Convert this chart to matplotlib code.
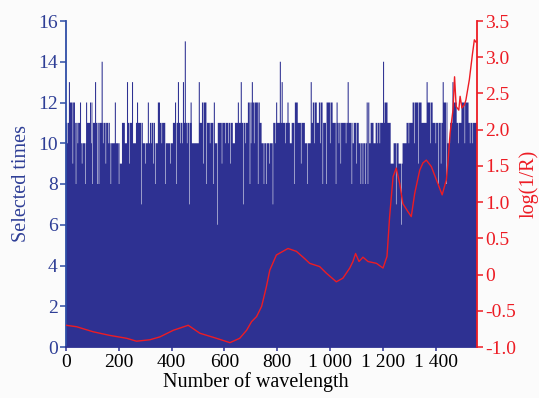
import numpy as np
import matplotlib
matplotlib.use("Agg")
import matplotlib.pyplot as plt

# ---- data ----
n_wavelengths = 1557

# selection count: level held from each start index until the next one
step_start = [0, 15, 34, 56, 76, 91, 100, 166, 204, 212, 223, 233, 252, 265, 291,
              318, 337, 348, 356, 378, 405, 477, 505, 515, 534, 564, 575, 632, 640,
              689, 734, 741, 783, 848, 855, 867, 878, 905, 929, 935, 950, 958, 973,
              985, 1010, 1086, 1090, 1109, 1154, 1165, 1173, 1207, 1218, 1230, 1241,
              1260, 1275, 1290, 1313, 1347, 1368, 1389, 1430, 1445, 1455, 1468, 1480,
              1498, 1525]
step_level = [11, 12, 11, 10, 11, 12, 11, 10, 9, 11, 10, 11, 10, 11, 10,
              11, 10, 12, 11, 10, 11, 10, 11, 12, 11, 10, 11, 10, 11,
              12, 11, 10, 11, 10, 11, 12, 11, 10, 11, 12, 11, 12, 11,
              12, 11, 10, 11, 10, 11, 10, 11, 12, 11, 9, 10,
              9, 10, 11, 12, 11, 12, 11, 12, 10, 11, 12, 11,
              12, 11]

# short tall bars
spike_at = [11, 53, 76, 110, 135, 185, 231, 250, 269, 310, 413, 424, 443, 450,
            472, 503, 560, 651, 662, 704, 796, 810, 817, 839, 927, 1025, 1067,
            1139, 1145, 1201, 1366, 1427, 1464, 1506]
spike_val = [13, 12, 12, 13, 14, 12, 13, 13, 12, 12, 12, 13, 13, 15,
             12, 13, 12, 12, 13, 13, 12, 14, 13, 12, 13, 12, 13,
             12, 12, 14, 13, 13, 13, 12]

# short low bars (gaps)
dip_at = [5, 25, 37, 44, 60, 72, 95, 100, 119, 124, 140, 150, 160, 169, 200,
          240, 258, 285, 300, 322, 330, 338, 362, 376, 395, 417, 432, 440, 458,
          467, 492, 520, 532, 545, 557, 573, 590, 603, 615, 622, 671, 680, 696,
          700, 712, 727, 749, 759, 770, 783, 792, 830, 865, 890, 913, 940, 963,
          972, 985, 1000, 1022, 1033, 1040, 1060, 1082, 1100, 1116, 1124, 1133,
          1143, 1180, 1188, 1250, 1270, 1298, 1320, 1335, 1355, 1380, 1400, 1411,
          1420, 1441, 1485, 1510, 1530, 1540]
dip_val = [10, 9, 8, 10, 9, 8, 10, 8, 8, 8, 10, 9, 10, 8, 8,
           9, 10, 7, 9, 10, 9, 8, 10, 8, 9, 8, 10, 10, 10,
           7, 10, 9, 8, 10, 8, 6, 9, 10, 10, 9, 7, 10, 8,
           10, 10, 8, 8, 8, 9, 7, 10, 10, 8, 9, 8, 10, 10,
           8, 8, 10, 8, 10, 9, 10, 8, 9, 8, 8, 8,
           8, 10, 10, 7, 6, 10, 10, 9, 11, 10, 10, 8,
           9, 8, 10, 10, 10, 10]

# mean spectrum log(1/R)
curve_x = [0, 40, 103, 166, 230, 267, 318, 356, 406, 463, 507, 570, 621, 658,
           684, 703, 722, 741, 759, 772, 797, 841, 873, 904, 923, 961, 986,
           1024, 1049, 1075, 1087, 1097, 1110, 1125, 1144, 1176, 1201, 1216,
           1226, 1239, 1251, 1264, 1276, 1295, 1308, 1321, 1340, 1352, 1365,
           1384, 1403, 1425, 1441, 1447, 1455, 1466, 1472, 1478, 1488, 1493,
           1500, 1509, 1515, 1528, 1540, 1547, 1553]
curve_y = [-0.70, -0.72, -0.79, -0.84, -0.88, -0.92, -0.90, -0.86, -0.77, -0.70,
           -0.81, -0.88, -0.94, -0.88, -0.77, -0.65, -0.58, -0.44, -0.17, 0.06,
           0.27, 0.36, 0.32, 0.22, 0.155, 0.11, 0.02, -0.10, -0.05, 0.09, 0.18,
           0.29, 0.18, 0.24, 0.18, 0.155, 0.09, 0.25, 0.80, 1.35, 1.47, 1.26,
           0.98, 0.87, 0.80, 1.12, 1.44, 1.54, 1.58, 1.49, 1.31, 1.10, 1.31,
           1.55, 1.95, 2.27, 2.73, 2.32, 2.27, 2.46, 2.30, 2.34, 2.41, 2.69,
           3.05, 3.24, 3.21]

x_ticks = [0, 200, 400, 600, 800, 1000, 1200, 1400]
x_labels = ["0", "200", "400", "600", "800", "1 000", "1 200", "1 400"]
right_ticks = [-1.0, -0.5, 0, 0.5, 1.0, 1.5, 2.0, 2.5, 3.0, 3.5]
right_labels = ["-1.0", "-0.5", "0", "0.5", "1.0", "1.5", "2.0", "2.5", "3.0", "3.5"]

# ---- build bar heights ----
counts = np.zeros(n_wavelengths)
ends = step_start[1:] + [n_wavelengths]
for s, e, v in zip(step_start, ends, step_level):
    counts[s:e] = v
for i, v in zip(spike_at, spike_val):
    counts[i:i + 4] = v
for i, v in zip(dip_at, dip_val):
    counts[i:i + 2] = np.minimum(counts[i:i + 2], v)

BAR = "#2e3192"
BLUE_AX = "#2f4ea6"
BLUE_TXT = "#2e3e96"
RED = "#ed1c24"
BG = "#fbfbfb"

plt.rcParams["font.family"] = ["Liberation Serif", "DejaVu Serif"]

fig = plt.figure(figsize=(5.39, 3.98), dpi=100, facecolor=BG)
ax = fig.add_axes([66 / 539, 51 / 398, 411 / 539, 326 / 398])
ax.set_facecolor(BG)
ax.stairs(counts, np.arange(n_wavelengths + 1), fill=True, color=BAR, linewidth=0)
ax.set_xlim(0, n_wavelengths)
ax.set_ylim(0, 16)
ax.set_yticks(range(0, 17, 2))
ax.set_xticks(x_ticks)
ax.set_xticklabels(x_labels)

ax.spines["top"].set_visible(False)
ax.spines["right"].set_visible(False)
ax.spines["left"].set_color(BLUE_AX)
ax.spines["left"].set_linewidth(1.3)
ax.spines["bottom"].set_color(BAR)
ax.spines["bottom"].set_linewidth(1.3)
ax.tick_params(axis="y", colors=BLUE_AX, labelcolor=BLUE_TXT, labelsize=14,
               direction="out", length=4, width=1.1, pad=2)
ax.tick_params(axis="x", colors=BAR, labelcolor="black", labelsize=14,
               direction="out", length=3, width=1.1, pad=2)
ax.set_ylabel("Selected times", fontsize=14.5, color=BLUE_TXT, labelpad=5)
ax.set_xlabel("Number of wavelength", fontsize=14.5, color="black", labelpad=1)
ax.xaxis.label.set_x(0.462)

ax2 = ax.twinx()
ax2.plot(curve_x, curve_y, color=RED, linewidth=1.0)
ax2.set_ylim(-1.0, 3.5)
ax2.set_yticks(right_ticks)
ax2.set_yticklabels(right_labels)
for side in ["top", "left", "bottom"]:
    ax2.spines[side].set_visible(False)
ax2.spines["right"].set_color(RED)
ax2.spines["right"].set_linewidth(1.3)
ax2.tick_params(axis="y", colors=RED, labelcolor=RED, labelsize=14,
                direction="out", length=4, width=1.1, pad=2)
ax2.set_ylabel("log(1/R)", fontsize=14.5, color=RED, labelpad=2)

fig.savefig("out.png", dpi=100, facecolor=BG)
